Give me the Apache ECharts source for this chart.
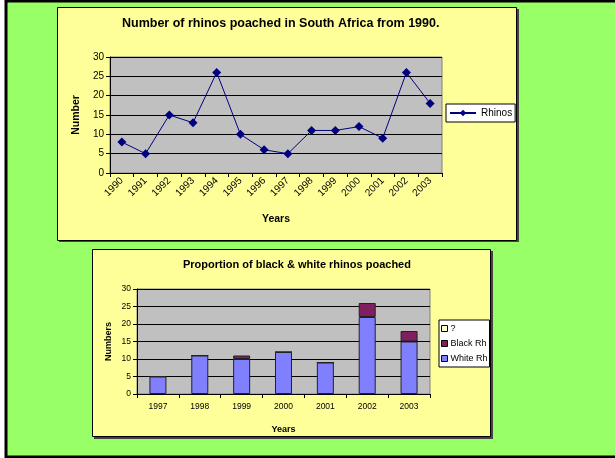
<!DOCTYPE html>
<html>
<head>
<meta charset="utf-8">
<script src="https://cdn.jsdelivr.net/npm/echarts@6/dist/echarts.min.js"></script>
<style>
  html, body { margin: 0; padding: 0; background: #fff; }
  #chart { width: 615px; height: 458px; }
</style>
</head>
<body>
<div id="chart"></div>
<script>
// rhinos poached per year (top chart)
const years = ['1990', '1991', '1992', '1993', '1994', '1995', '1996', '1997', '1998', '1999', '2000', '2001', '2002', '2003'];
const rhinos = [8, 5, 15, 13, 26, 10, 6, 5, 11, 11, 12, 9, 26, 18];

// black / white split (bottom chart)
const splitYears = ['1997', '1998', '1999', '2000', '2001', '2002', '2003'];
const whiteRh = [5, 11, 10, 12, 9, 22, 15];
const blackRh = [0, 0, 1, 0, 0, 4, 3];
const unknownRh = [null, null, null, null, null, null, null];

const FONT = '"Liberation Sans", Arial, sans-serif';

let chart = echarts.init(document.getElementById('chart'));

// background shapes: green page, outer border, two yellow panels
const graphics = [
    { type: 'rect', z: -10, shape: { x: 6, y: 1, width: 640, height: 456 },
      style: { fill: '#99FF66', stroke: '#000', lineWidth: 3 } },
    { type: 'rect', z: -9, shape: { x: 59, y: 9, width: 460, height: 233 }, style: { fill: '#444' } },
    { type: 'rect', z: -8, shape: { x: 57.5, y: 7.5, width: 459, height: 233 },
      style: { fill: '#FFFF99', stroke: '#000', lineWidth: 1 } },
    { type: 'rect', z: -9, shape: { x: 94, y: 251, width: 399, height: 188 }, style: { fill: '#444' } },
    { type: 'rect', z: -8, shape: { x: 92.5, y: 249.5, width: 398, height: 187 },
      style: { fill: '#FFFF99', stroke: '#000', lineWidth: 1 } }
];

function valueAxis(gridIndex, fontSize, name, nameSize, nameGap) {
    return {
        type: 'value', gridIndex: gridIndex, min: 0, max: 30, interval: 5,
        name: name, nameLocation: 'middle', nameGap: nameGap,
        nameTextStyle: { fontFamily: FONT, fontSize: nameSize, fontWeight: 'bold', color: '#000' },
        axisLine: { show: true, lineStyle: { color: '#000', width: 1 } },
        axisTick: { show: true, length: 4, lineStyle: { color: '#000' } },
        axisLabel: { fontFamily: FONT, fontSize: fontSize, color: '#000', margin: 6 },
        splitLine: { show: true, lineStyle: { color: '#000', width: 1 } }
    };
}

let option = {
    animation: false,
    graphic: graphics,
    title: [
        { text: 'Number of rhinos poached in South Africa from 1990.', left: 117, top: 12,
          textStyle: { fontFamily: FONT, fontSize: 12.5, fontWeight: 'bold', color: '#000' } },
        { text: 'Proportion of black & white rhinos poached', left: 178, top: 254,
          textStyle: { fontFamily: FONT, fontSize: 11, fontWeight: 'bold', color: '#000' } }
    ],
    legend: [
        {
            data: ['Rhinos'], left: 446, top: 104, orient: 'vertical',
            backgroundColor: '#fff', borderColor: '#000', borderWidth: 1,
            padding: [4, 3, 4, 3], itemWidth: 26, itemHeight: 8,
            textStyle: { fontFamily: FONT, fontSize: 10, color: '#000' }
        },
        {
            data: ['?', 'Black Rh', 'White Rh'], left: 439, top: 320, orient: 'vertical',
            backgroundColor: '#fff', borderColor: '#000', borderWidth: 1,
            padding: [4, 2, 4, 2], itemWidth: 6, itemHeight: 6, itemGap: 6,
            icon: 'rect',
            itemStyle: { borderColor: '#000', borderWidth: 1 },
            textStyle: { fontFamily: FONT, fontSize: 9, color: '#000', padding: [0, 0, 0, -2] }
        }
    ],
    grid: [
        { left: 110, top: 57, width: 332, height: 116, show: true,
          backgroundColor: '#C0C0C0', borderColor: '#808080', borderWidth: 1 },
        { left: 137, top: 289, width: 293, height: 105, show: true,
          backgroundColor: '#C0C0C0', borderColor: '#808080', borderWidth: 1 }
    ],
    xAxis: [
        {
            type: 'category', gridIndex: 0, data: years, boundaryGap: true,
            name: 'Years', nameLocation: 'middle', nameGap: 41,
            nameTextStyle: { fontFamily: FONT, fontSize: 10.5, fontWeight: 'bold', color: '#000' },
            axisLine: { lineStyle: { color: '#000' } },
            axisTick: { show: true, length: 4, interval: 0, lineStyle: { color: '#000' } },
            axisLabel: { fontFamily: FONT, fontSize: 10, color: '#000', rotate: 45, interval: 0, margin: 6 }
        },
        {
            type: 'category', gridIndex: 1, data: splitYears, boundaryGap: true,
            name: 'Years', nameLocation: 'middle', nameGap: 31,
            nameTextStyle: { fontFamily: FONT, fontSize: 9, fontWeight: 'bold', color: '#000' },
            axisLine: { lineStyle: { color: '#000' } },
            axisTick: { show: true, length: 4, interval: 0, lineStyle: { color: '#000' } },
            axisLabel: { fontFamily: FONT, fontSize: 8.5, color: '#000', interval: 0, margin: 8 }
        }
    ],
    yAxis: [
        valueAxis(0, 10, 'Number', 10.5, 28),
        valueAxis(1, 8.5, 'Numbers', 9, 24)
    ],
    series: [
        {
            name: 'Rhinos', type: 'line', xAxisIndex: 0, yAxisIndex: 0, data: rhinos,
            symbol: 'diamond', symbolSize: 9,
            lineStyle: { color: '#000080', width: 1 },
            itemStyle: { color: '#000080' }
        },
        {
            name: 'White Rh', type: 'bar', stack: 'rh', xAxisIndex: 1, yAxisIndex: 1, data: whiteRh,
            barWidth: 17, itemStyle: { color: '#8080FF', borderColor: '#222', borderWidth: 1 }
        },
        {
            name: 'Black Rh', type: 'bar', stack: 'rh', xAxisIndex: 1, yAxisIndex: 1, data: blackRh,
            barWidth: 17, itemStyle: { color: '#7F1F5F', borderColor: '#222', borderWidth: 1 }
        },
        {
            name: '?', type: 'bar', stack: 'rh', xAxisIndex: 1, yAxisIndex: 1, data: unknownRh,
            barWidth: 17, itemStyle: { color: '#FFFFCC', borderColor: '#222', borderWidth: 1 }
        }
    ]
};

chart.setOption(option);
</script>
</body>
</html>
